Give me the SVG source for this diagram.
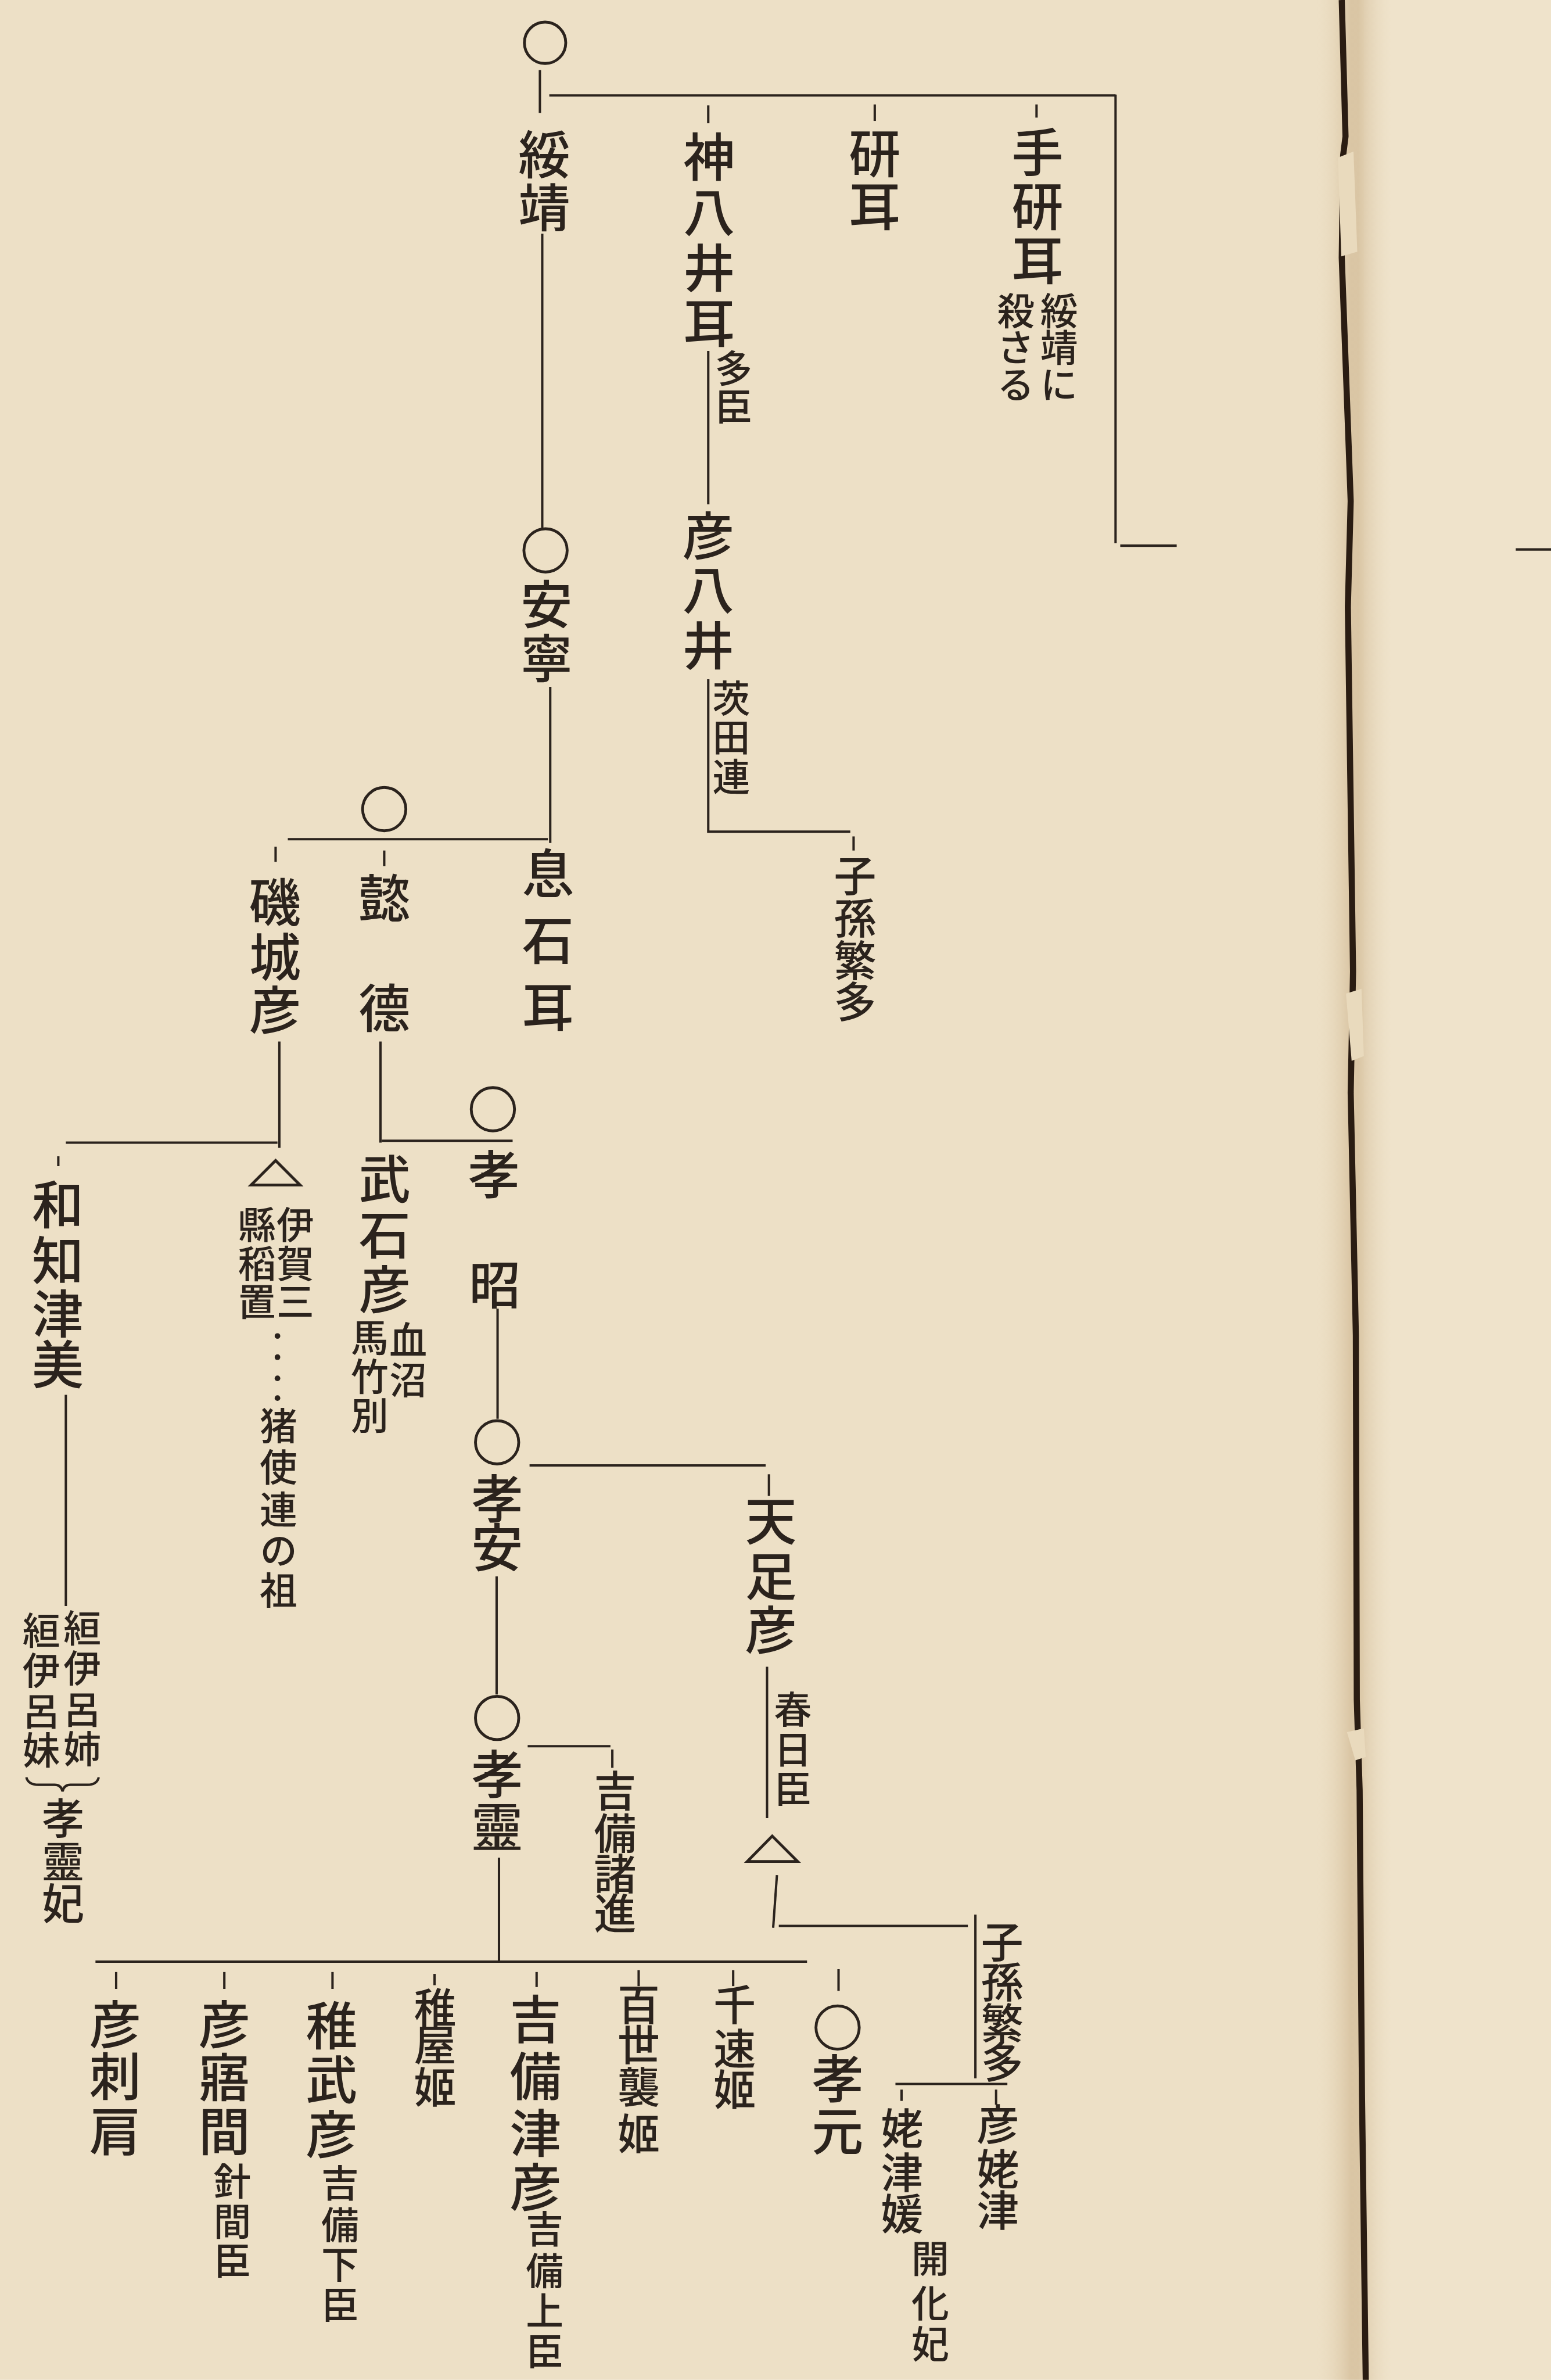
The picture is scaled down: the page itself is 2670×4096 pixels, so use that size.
<svg xmlns="http://www.w3.org/2000/svg" width="2670" height="4096" viewBox="0 0 2670 4096">
<defs>
<style>
text{font-family:"Noto Sans CJK JP","Noto Sans CJK SC",sans-serif;fill:#2b231d;writing-mode:vertical-rl;text-anchor:start;font-weight:500}
.L{font-size:110px}
.M{font-size:90px}
.S{font-size:80px}
.ln{stroke:#2b231d;stroke-width:5;fill:none;stroke-linecap:butt}
.mk{stroke:#2b231d;stroke-width:6;fill:none}
</style>
<linearGradient id="gut" x1="0" y1="0" x2="1" y2="0">
<stop offset="0" stop-color="#e6d6b8" stop-opacity="0"/>
<stop offset="0.45" stop-color="#cdb48e" stop-opacity="0.6"/>
<stop offset="0.55" stop-color="#cdb48e" stop-opacity="0.6"/>
<stop offset="1" stop-color="#e6d6b8" stop-opacity="0"/>
</linearGradient>
</defs>
<g transform="scale(0.8096)">
<rect id="paper" x="0" y="0" width="3298" height="5059" fill="#ede0c6"/>
<rect id="rightpage" x="2900" y="0" width="398" height="5059" fill="#efe3cb"/>
<rect x="2800" y="0" width="160" height="5059" fill="url(#gut)"/>
<path id="gutter" d="M2853,0 L2861,290 L2856,330 L2853,548 L2872,1065 L2866,1290 L2877,2065 L2872,2323 L2883,2839 L2885,3613 L2891,3806 L2896,4452 L2904,5059" stroke="#2a1c12" stroke-width="13" fill="none"/>
<path d="M2845,335 L2878,322 L2886,535 L2852,545 Z" fill="#e9dabd"/>
<path d="M2862,2112 L2895,2102 L2900,2245 L2874,2255 Z" fill="#e9dabd"/>
<path d="M2864,3682 L2900,3674 L2904,3735 L2882,3742 Z" fill="#e9dabd"/>
<line x1="3223" y1="1168" x2="3298" y2="1168" class="ln"/>

<g id="connectors">
<line class="ln" x1="1148" y1="149" x2="1148" y2="240"/>
<line class="ln" x1="1168" y1="203" x2="2372" y2="203"/>
<line class="ln" x1="2372" y1="201" x2="2372" y2="1155"/>
<line class="ln" x1="2382" y1="1160" x2="2502" y2="1160"/>
<line class="ln" x1="2204" y1="222" x2="2204" y2="250"/>
<line class="ln" x1="1860" y1="222" x2="1860" y2="257"/>
<line class="ln" x1="1506" y1="224" x2="1506" y2="262"/>
<line class="ln" x1="1506" y1="746" x2="1506" y2="1072"/>
<path class="ln" d="M1506,1444 V1768 H1808"/>
<line class="ln" x1="1815" y1="1778" x2="1815" y2="1808"/>
<line class="ln" x1="1153" y1="497" x2="1153" y2="1122"/>
<line class="ln" x1="1170" y1="1460" x2="1170" y2="1792"/>
<line class="ln" x1="612" y1="1784" x2="1165" y2="1784"/>
<line class="ln" x1="817" y1="1808" x2="817" y2="1841"/>
<line class="ln" x1="586" y1="1800" x2="586" y2="1832"/>
<line class="ln" x1="809" y1="2214" x2="809" y2="2429"/>
<line class="ln" x1="812" y1="2425" x2="1090" y2="2425"/>
<line class="ln" x1="594" y1="2214" x2="594" y2="2440"/>
<line class="ln" x1="140" y1="2429" x2="590" y2="2429"/>
<line class="ln" x1="124" y1="2458" x2="124" y2="2479"/>
<line class="ln" x1="140" y1="2965" x2="140" y2="3414"/>
<line class="ln" x1="1058" y1="2782" x2="1058" y2="3016"/>
<line class="ln" x1="1126" y1="3115" x2="1628" y2="3115"/>
<line class="ln" x1="1635" y1="3134" x2="1635" y2="3180"/>
<line class="ln" x1="1056" y1="3351" x2="1056" y2="3602"/>
<line class="ln" x1="1122" y1="3712" x2="1298" y2="3712"/>
<line class="ln" x1="1302" y1="3719" x2="1302" y2="3758"/>
<line class="ln" x1="1061" y1="3949" x2="1061" y2="4170"/>
<line class="ln" x1="203" y1="4170" x2="1716" y2="4170"/>
<line class="ln" x1="247" y1="4192" x2="247" y2="4228"/>
<line class="ln" x1="477" y1="4192" x2="477" y2="4228"/>
<line class="ln" x1="707" y1="4192" x2="707" y2="4228"/>
<line class="ln" x1="924" y1="4196" x2="924" y2="4220"/>
<line class="ln" x1="1141" y1="4192" x2="1141" y2="4224"/>
<line class="ln" x1="1358" y1="4188" x2="1358" y2="4222"/>
<line class="ln" x1="1559" y1="4188" x2="1559" y2="4222"/>
<line class="ln" x1="1783" y1="4186" x2="1783" y2="4232"/>
<line class="ln" x1="1631" y1="3543" x2="1631" y2="3865"/>
<path class="ln" d="M1652,3986 L1644,4098"/>
<line class="ln" x1="1656" y1="4094" x2="2058" y2="4094"/>
<line class="ln" x1="2074" y1="4070" x2="2074" y2="4418"/>
<line class="ln" x1="1904" y1="4430" x2="2142" y2="4430"/>
<line class="ln" x1="1917" y1="4442" x2="1917" y2="4466"/>
<line class="ln" x1="2118" y1="4442" x2="2118" y2="4474"/>
</g>

<g id="n-suizei">
<circle class="mk" cx="1159" cy="91" r="44"/>
<text class="L"><tspan x="1157" y="272">綏</tspan><tspan x="1157" y="385">靖</tspan></text>
</g>
<g id="n-tagishimimi">
<text class="L"><tspan x="2206" y="268">手</tspan><tspan x="2206" y="383">研</tspan><tspan x="2206" y="497">耳</tspan></text>
<text class="S"><tspan x="2252" y="620">綏</tspan><tspan x="2252" y="698">靖</tspan><tspan x="2252" y="776">に</tspan></text>
<text class="S"><tspan x="2160" y="620">殺</tspan><tspan x="2160" y="698">さ</tspan><tspan x="2160" y="776">る</tspan></text>
</g>
<g id="n-kisumimi">
<text class="L"><tspan x="1860" y="270">研</tspan><tspan x="1860" y="383">耳</tspan></text>
</g>
<g id="n-kamuyaimimi">
<text class="L"><tspan x="1508" y="277">神</tspan><tspan x="1508" y="395">八</tspan><tspan x="1508" y="513">井</tspan><tspan x="1508" y="631">耳</tspan></text>
<text class="S"><tspan x="1560" y="742">多</tspan><tspan x="1560" y="822">臣</tspan></text>
</g>
<g id="n-hikoyai">
<text class="L"><tspan x="1506" y="1083">彦</tspan><tspan x="1506" y="1198">八</tspan><tspan x="1506" y="1317">井</tspan></text>
<text class="S"><tspan x="1555" y="1444">茨</tspan><tspan x="1555" y="1527">田</tspan><tspan x="1555" y="1610">連</tspan></text>
</g>
<g id="n-shison1">
<text class="M"><tspan x="1818" y="1815">子</tspan><tspan x="1818" y="1905">孫</tspan><tspan x="1818" y="1995">繁</tspan><tspan x="1818" y="2083">多</tspan></text>
</g>
<g id="n-annei">
<circle class="mk" cx="1160" cy="1170" r="46"/>
<text class="L"><tspan x="1162" y="1228">安</tspan><tspan x="1162" y="1343">寧</tspan></text>
</g>
<g id="n-okishimimi">
<text class="L"><tspan x="1165" y="1800">息</tspan><tspan x="1165" y="1943">石</tspan><tspan x="1165" y="2085">耳</tspan></text>
</g>
<g id="n-itoku">
<circle class="mk" cx="817" cy="1720" r="46"/>
<text class="L"><tspan x="817" y="1853">懿</tspan><tspan x="817" y="2087">德</tspan></text>
</g>
<g id="n-shikitsuhiko">
<text class="L"><tspan x="585" y="1862">磯</tspan><tspan x="585" y="1979">城</tspan><tspan x="585" y="2091">彦</tspan></text>
</g>
<g id="n-wachitsumi">
<text class="L"><tspan x="123" y="2505">和</tspan><tspan x="123" y="2623">知</tspan><tspan x="123" y="2737">津</tspan><tspan x="123" y="2845">美</tspan></text>
</g>
<g id="n-haeirone">
<text class="S"><tspan x="175" y="3420">絙</tspan><tspan x="175" y="3505">伊</tspan><tspan x="175" y="3592">呂</tspan><tspan x="175" y="3678">姉</tspan></text>
<text class="S"><tspan x="88" y="3425">絙</tspan><tspan x="88" y="3510">伊</tspan><tspan x="88" y="3596">呂</tspan><tspan x="88" y="3680">妹</tspan></text>
<path class="ln" d="M56,3778 Q60,3794 82,3794 L116,3794 Q130,3794 133,3808 Q136,3794 150,3794 L186,3794 Q206,3794 210,3778"/>
<text class="M"><tspan x="134" y="3819">孝</tspan><tspan x="134" y="3912">靈</tspan><tspan x="134" y="4000">妃</tspan></text>
</g>
<g id="n-triangle1">
<polygon class="mk" points="586,2467 534,2519 638,2519"/>
<text class="S"><tspan x="628" y="2563">伊</tspan><tspan x="628" y="2646">賀</tspan><tspan x="628" y="2726">三</tspan></text>
<text class="S"><tspan x="546" y="2563">縣</tspan><tspan x="546" y="2646">稻</tspan><tspan x="546" y="2726">置</tspan></text>
<g fill="#2b231d"><circle cx="590" cy="2840" r="6"/><circle cx="590" cy="2885" r="6"/><circle cx="590" cy="2930" r="6"/><circle cx="590" cy="2972" r="6"/></g>
<text class="S"><tspan x="592" y="2990">猪</tspan><tspan x="592" y="3078">使</tspan><tspan x="592" y="3168">連</tspan><tspan x="592" y="3256">の</tspan><tspan x="592" y="3340">祖</tspan></text>
</g>
<g id="n-takeishihiko">
<text class="L"><tspan x="818" y="2450">武</tspan><tspan x="818" y="2569">石</tspan><tspan x="818" y="2685">彦</tspan></text>
<text class="S"><tspan x="868" y="2808">血</tspan><tspan x="868" y="2893">沼</tspan></text>
<text class="S"><tspan x="786" y="2803">馬</tspan><tspan x="786" y="2885">竹</tspan><tspan x="786" y="2968">別</tspan></text>
</g>
<g id="n-kosho">
<circle class="mk" cx="1048" cy="2358" r="46"/>
<text class="L"><tspan x="1050" y="2440">孝</tspan><tspan x="1052" y="2675">昭</tspan></text>
</g>
<g id="n-koan">
<circle class="mk" cx="1057" cy="3066" r="46"/>
<text class="L"><tspan x="1057" y="3130">孝</tspan><tspan x="1057" y="3233">安</tspan></text>
</g>
<g id="n-amatarashihiko">
<text class="L"><tspan x="1639" y="3177">天</tspan><tspan x="1639" y="3295">足</tspan><tspan x="1639" y="3409">彦</tspan></text>
<text class="S"><tspan x="1686" y="3593">春</tspan><tspan x="1686" y="3678">日</tspan><tspan x="1686" y="3760">臣</tspan></text>
</g>
<g id="n-triangle2">
<polygon class="mk" points="1642,3903 1589,3957 1696,3957"/>
</g>
<g id="n-korei">
<circle class="mk" cx="1057" cy="3652" r="46"/>
<text class="L"><tspan x="1057" y="3715">孝</tspan><tspan x="1057" y="3827">靈</tspan></text>
</g>
<g id="n-kibimoromiso">
<text class="M"><tspan x="1308" y="3761">吉</tspan><tspan x="1308" y="3851">備</tspan><tspan x="1308" y="3937">諸</tspan><tspan x="1308" y="4021">進</tspan></text>
</g>
<g id="n-kogen">
<circle class="mk" cx="1781" cy="4310" r="46"/>
<text class="L"><tspan x="1781" y="4362">孝</tspan><tspan x="1781" y="4473">元</tspan></text>
</g>
<g id="n-shison2">
<text class="M"><tspan x="2131" y="4082">子</tspan><tspan x="2131" y="4167">孫</tspan><tspan x="2131" y="4255">繁</tspan><tspan x="2131" y="4337">多</tspan></text>
</g>
<g id="n-hikohahatsu">
<text class="M"><tspan x="2122" y="4470">彦</tspan><tspan x="2122" y="4565">姥</tspan><tspan x="2122" y="4652">津</tspan></text>
</g>
<g id="n-hahatsuhime">
<text class="M"><tspan x="1918" y="4479">姥</tspan><tspan x="1918" y="4572">津</tspan><tspan x="1918" y="4660">媛</tspan></text>
<text class="S"><tspan x="1978" y="4760">開</tspan><tspan x="1978" y="4855">化</tspan><tspan x="1978" y="4942">妃</tspan></text>
</g>
<g id="n-chihayahime">
<text class="M"><tspan x="1562" y="4215">千</tspan><tspan x="1562" y="4309">速</tspan><tspan x="1562" y="4395">姬</tspan></text>
</g>
<g id="n-momoso">
<text class="M"><tspan x="1358" y="4215">百</tspan><tspan x="1358" y="4300">世</tspan><tspan x="1358" y="4390">襲</tspan><tspan x="1358" y="4489">姬</tspan></text>
</g>
<g id="n-kibitsuhiko">
<text class="L"><tspan x="1139" y="4236">吉</tspan><tspan x="1139" y="4357">備</tspan><tspan x="1139" y="4478">津</tspan><tspan x="1139" y="4593">彦</tspan></text>
<text class="S"><tspan x="1158" y="4697">吉</tspan><tspan x="1158" y="4786">備</tspan><tspan x="1158" y="4871">上</tspan><tspan x="1158" y="4957">臣</tspan></text>
</g>
<g id="n-wakayahime">
<text class="M"><tspan x="925" y="4223">稚</tspan><tspan x="925" y="4301">屋</tspan><tspan x="925" y="4390">姬</tspan></text>
</g>
<g id="n-wakatakehiko">
<text class="L"><tspan x="705" y="4250">稚</tspan><tspan x="705" y="4365">武</tspan><tspan x="705" y="4481">彦</tspan></text>
<text class="S"><tspan x="723" y="4600">吉</tspan><tspan x="723" y="4689">備</tspan><tspan x="723" y="4772">下</tspan><tspan x="723" y="4858">臣</tspan></text>
</g>
<g id="n-hikosame">
<text class="L"><tspan x="477" y="4247">彦</tspan><tspan x="477" y="4360">寤</tspan><tspan x="477" y="4475">間</tspan></text>
<text class="S"><tspan x="494" y="4596">針</tspan><tspan x="494" y="4681">間</tspan><tspan x="494" y="4764">臣</tspan></text>
</g>
<g id="n-hikosashikata">
<text class="L"><tspan x="245" y="4247">彦</tspan><tspan x="245" y="4357">刺</tspan><tspan x="245" y="4475">肩</tspan></text>
</g>
</g>
</svg>
